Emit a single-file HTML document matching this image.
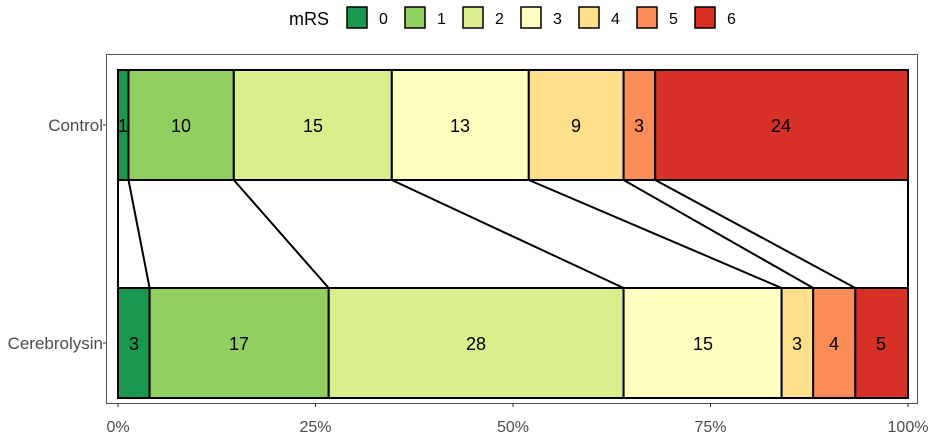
<!DOCTYPE html>
<html><head><style>body{margin:0;background:#fff}svg{display:block}text{font-family:"Liberation Sans",Arial,sans-serif}</style></head><body>
<svg width="935" height="441" xmlns="http://www.w3.org/2000/svg">
<g font-size="16" fill="#000">
<text x="289" y="25" font-size="18">mRS</text>
<rect x="347" y="7" width="20" height="21" fill="#1a9850" stroke="#000" stroke-width="1.5"/><text x="379" y="24">0</text>
<rect x="405" y="7" width="20" height="21" fill="#91cf60" stroke="#000" stroke-width="1.5"/><text x="437" y="24">1</text>
<rect x="463" y="7" width="20" height="21" fill="#d9ef8b" stroke="#000" stroke-width="1.5"/><text x="495" y="24">2</text>
<rect x="521" y="7" width="20" height="21" fill="#ffffbf" stroke="#000" stroke-width="1.5"/><text x="553" y="24">3</text>
<rect x="579" y="7" width="20" height="21" fill="#fee08b" stroke="#000" stroke-width="1.5"/><text x="611" y="24">4</text>
<rect x="637" y="7" width="20" height="21" fill="#fc8d59" stroke="#000" stroke-width="1.5"/><text x="669" y="24">5</text>
<rect x="695" y="7" width="20" height="21" fill="#d73027" stroke="#000" stroke-width="1.5"/><text x="727" y="24">6</text>
</g>
<rect x="106.5" y="54.5" width="811" height="349" fill="none" stroke="#555" stroke-width="1"/>
<g stroke="#000" stroke-width="2">
<rect x="118" y="70" width="10.5" height="110" fill="#1a9850"/>
<rect x="128.5" y="70" width="105.3" height="110" fill="#91cf60"/>
<rect x="233.8" y="70" width="158" height="110" fill="#d9ef8b"/>
<rect x="391.8" y="70" width="137" height="110" fill="#ffffbf"/>
<rect x="528.8" y="70" width="94.8" height="110" fill="#fee08b"/>
<rect x="623.6" y="70" width="31.6" height="110" fill="#fc8d59"/>
<rect x="655.2" y="70" width="252.8" height="110" fill="#d73027"/>
<rect x="118" y="288" width="31.6" height="110" fill="#1a9850"/>
<rect x="149.6" y="288" width="179.1" height="110" fill="#91cf60"/>
<rect x="328.7" y="288" width="294.9" height="110" fill="#d9ef8b"/>
<rect x="623.6" y="288" width="158" height="110" fill="#ffffbf"/>
<rect x="781.6" y="288" width="31.6" height="110" fill="#fee08b"/>
<rect x="813.2" y="288" width="42.1" height="110" fill="#fc8d59"/>
<rect x="855.3" y="288" width="52.7" height="110" fill="#d73027"/>
<line x1="118" y1="180" x2="118" y2="288"/>
<line x1="128.5" y1="180" x2="149.6" y2="288"/>
<line x1="233.8" y1="180" x2="328.7" y2="288"/>
<line x1="391.8" y1="180" x2="623.6" y2="288"/>
<line x1="528.8" y1="180" x2="781.6" y2="288"/>
<line x1="623.6" y1="180" x2="813.2" y2="288"/>
<line x1="655.2" y1="180" x2="855.3" y2="288"/>
<line x1="908" y1="180" x2="908" y2="288"/>
</g>
<g font-size="18" text-anchor="middle" fill="#000">
<text x="123" y="132">1</text><text x="181" y="132">10</text><text x="313" y="132">15</text><text x="460" y="132">13</text><text x="576" y="132">9</text><text x="639" y="132">3</text><text x="781" y="132">24</text>
<text x="134" y="350">3</text><text x="239" y="350">17</text><text x="476" y="350">28</text><text x="703" y="350">15</text><text x="797" y="350">3</text><text x="834" y="350">4</text><text x="881" y="350">5</text>
</g>
<g font-size="17" fill="#4d4d4d" text-anchor="end">
<text x="103" y="131">Control</text><text x="103" y="349">Cerebrolysin</text>
</g>
<g stroke="#333" stroke-width="1">
<line x1="103" y1="125" x2="106" y2="125"/><line x1="103" y1="343" x2="106" y2="343"/>
<line x1="118" y1="403" x2="118" y2="407"/><line x1="315.5" y1="403" x2="315.5" y2="407"/><line x1="513" y1="403" x2="513" y2="407"/><line x1="710.5" y1="403" x2="710.5" y2="407"/><line x1="908" y1="403" x2="908" y2="407"/>
</g>
<g font-size="16" fill="#4d4d4d" text-anchor="middle">
<text x="118" y="432">0%</text><text x="315.5" y="432">25%</text><text x="513" y="432">50%</text><text x="710.5" y="432">75%</text><text x="908" y="432">100%</text>
</g>
</svg>
</body></html>
